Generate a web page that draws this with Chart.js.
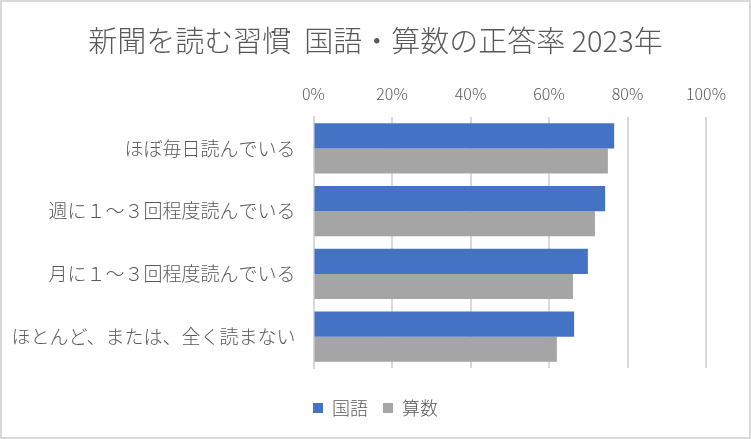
<!DOCTYPE html>
<html>
<head>
<meta charset="utf-8">
<script src="https://cdn.jsdelivr.net/npm/chart.js@4"></script>
<style>
  html, body { margin: 0; padding: 0; background: #fff; }
  #wrap { width: 751px; height: 439px; position: relative; }
</style>
</head>
<body>
<div id="wrap"><canvas id="chart"></canvas></div>
<script>
const categories = ['ほぼ毎日読んでいる', '週に１～３回程度読んでいる', '月に１～３回程度読んでいる', 'ほとんど、または、全く読まない'];
const kokugo = [76.6, 74.3, 69.9, 66.4];
const sansu = [75.0, 71.7, 66.1, 62.0];
const seriesNames = ['国語', '算数'];

const FONT = '"Noto Sans CJK JP", "Noto Sans", sans-serif';
const TEXT = '#595959';
const GRID = '#d9d9d9';

// light grey frame round the whole chart, like the spreadsheet export
const framePlugin = {
  id: 'frame',
  afterDraw(chart) {
    const ctx = chart.ctx;
    ctx.save();
    ctx.strokeStyle = GRID;
    ctx.lineWidth = 2;
    ctx.strokeRect(1, 1, chart.width - 2, chart.height - 2);
    ctx.restore();
  }
};

// empty axes that only hold margins (right edge, gap above the legend)
const spacer = (position, size) => ({
  type: 'linear',
  position: position,
  min: 0,
  max: 1,
  ticks: { display: false },
  grid: { display: false, drawTicks: false },
  border: { display: false },
  afterFit(scale) {
    if (position === 'right') scale.width = size;
    else scale.height = size;
  }
});

new Chart(document.getElementById('chart'), {
  type: 'bar',
  data: {
    labels: categories,
    datasets: [
      { label: seriesNames[0], data: kokugo, backgroundColor: '#4472c4', barPercentage: 1, categoryPercentage: 0.8 },
      { label: seriesNames[1], data: sansu, backgroundColor: '#a5a5a5', barPercentage: 1, categoryPercentage: 0.8 }
    ]
  },
  options: {
    indexAxis: 'y',
    responsive: true,
    maintainAspectRatio: false,
    animation: false,
    layout: { padding: { top: 0, right: 0, bottom: 12, left: 0 } },
    plugins: {
      title: {
        display: true,
        text: '新聞を読む習慣  国語・算数の正答率 2023年',
        color: TEXT,
        font: { family: FONT, size: 29, weight: 300 },
        padding: { top: 24, bottom: 8 }
      },
      legend: {
        position: 'bottom',
        labels: {
          color: TEXT,
          font: { family: FONT, size: 18, weight: 300 },
          boxWidth: 10,
          boxHeight: 10,
          padding: 15
        }
      },
      tooltip: { enabled: false }
    },
    scales: {
      x: {
        position: 'top',
        min: 0,
        max: 100,
        ticks: {
          stepSize: 20,
          color: TEXT,
          font: { family: FONT, size: 16, weight: 300 },
          padding: 13,
          callback: v => v + '%'
        },
        grid: { color: GRID, lineWidth: 2, drawTicks: false },
        border: { display: false },
        afterFit(scale) { scale.height = 50.2; }
      },
      y: {
        ticks: {
          color: TEXT,
          font: { family: FONT, size: 19, weight: 300 },
          padding: 18
        },
        grid: { display: false, drawTicks: false },
        border: { display: true, color: GRID, width: 2 },
        afterFit(scale) { scale.width = 313.5; }
      },
      rightGap: spacer('right', 45),
      bottomGap: spacer('bottom', 16)
    }
  },
  plugins: [framePlugin]
});
</script>
</body>
</html>
